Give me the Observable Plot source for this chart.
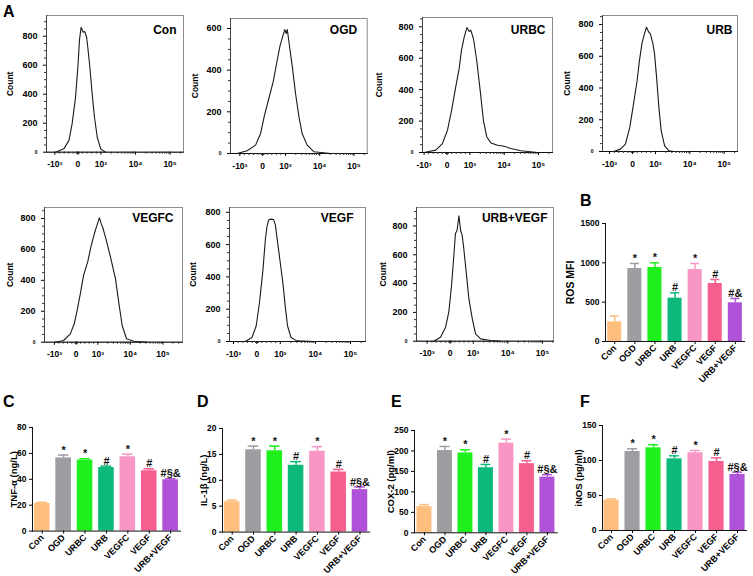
<!DOCTYPE html>
<html><head><meta charset="utf-8">
<script src="https://cdn.jsdelivr.net/npm/d3@7"></script>
<script src="https://cdn.jsdelivr.net/npm/@observablehq/plot@0.6"></script>
<style>
body{margin:0;background:#fff;}
#root{position:relative;width:753px;height:576px;overflow:hidden;font-family:"Liberation Sans",Arial,sans-serif;background:#fff;}
#root svg{position:absolute;}
#root svg text{font-weight:bold;}
.lab{position:absolute;font-weight:bold;font-size:16px;line-height:1;color:#000;}
</style></head><body><div id="root"></div>
<script>
// ---------- DATA ----------
const groups = ["Con","OGD","URBC","URB","VEGFC","VEGF","URB+VEGF"];
const groupColors = ["#FDBE7E","#9D9DA2","#1EF01E","#0DB97A","#F897C6","#F65E8E","#B052D8"];

const rosMean = [250,928,941,551,915,737,492];
const rosSem  = [72,64,59,68,77,51,55];
const rosMarks = ["","*","*","#","*","#","#&"];

const tnfMean = [21.3,56.5,54.8,49.1,57.4,46.6,39.6];
const tnfSem  = [0.9,2.2,1.1,1.1,2.0,1.5,0.8];
const il1bMean = [5.85,15.9,15.7,12.9,15.6,11.6,8.2];
const il1bSem  = [0.32,0.7,0.9,0.7,0.9,0.5,0.5];
const cox2Mean = [64,201,195,159,219,169,136];
const cox2Sem  = [5,10,8,8,10,7,6];
const inosMean = [43.3,112.9,118.1,102.4,111,98.6,80];
const inosSem  = [1.9,3.8,4.3,4.3,3.3,5.2,3.3];
const cytoMarks = ["","*","*","#","*","#","#§&"];

// flow histograms: x in display units of the biexponential axis, counts
const flowTicks = [-1,0,1,2.5,4];
const flowTickLabels = ["-10³","0","10³","10⁴","10⁵"];

const conX = [-0.97,-0.61,-0.39,-0.25,-0.1,0.01,0.07,0.14,0.23,0.3,0.38,0.43,0.52,0.62,0.72,0.84,0.99,1.2];
const conCount = [0,23,80,195,380,610,775,862,828,832,793,724,586,402,241,103,23,0];
const ogdX = [-1.12,-0.68,-0.31,-0.09,0.08,0.27,0.46,0.61,0.75,0.87,0.97,1.03,1.08,1.16,1.3,1.44,1.59,1.73,1.95,2.25,2.98];
const ogdCount = [0,13,40,96,184,264,344,432,512,560,595,576,595,528,416,288,176,96,40,8,0];
const urbcX = [-1,-0.49,-0.2,0.02,0.2,0.38,0.53,0.63,0.75,0.87,0.97,1.04,1.16,1.3,1.45,1.59,1.74,1.92,2.21,2.5,2.79,3.23,3.96];
const urbcCount = [0,15,57,141,268,416,532,648,732,795,770,779,722,584,395,205,99,61,46,40,25,11,0];
const urbX = [-0.82,-0.53,-0.31,-0.12,0.02,0.2,0.3,0.42,0.52,0.61,0.71,0.78,0.89,0.96,1.05,1.15,1.25,1.4,1.59,1.81];
const urbCount = [0,15,46,152,278,446,573,688,741,783,752,741,678,615,467,278,131,36,4,0];
const vegfcX = [-0.97,-0.58,-0.27,-0.09,0.06,0.22,0.34,0.53,0.68,0.84,0.96,1.07,1.15,1.24,1.39,1.58,1.81,1.96,2.12,2.32,2.66,3.27];
const vegfcCount = [0,11,54,119,216,335,432,519,616,703,757,804,768,735,659,551,411,259,108,22,6,0];
const vegfX = [-0.5,-0.21,-0.03,0.11,0.26,0.36,0.43,0.5,0.6,0.71,0.79,0.89,1.0,1.11,1.21,1.31,1.46,1.71,2.43];
const vegfCount = [0,25,96,240,445,629,711,752,758,756,722,609,486,363,219,96,25,4,0];
const urbVegfX = [-0.71,-0.42,-0.2,-0.06,0.06,0.16,0.23,0.3,0.38,0.45,0.52,0.59,0.71,0.81,0.96,1.1,1.32,1.75,2.19];
const urbVegfCount = [0,28,97,202,387,596,747,770,870,770,735,643,457,295,155,51,16,5,0];

// ---------- DRAWING ----------
const root = document.getElementById("root");
const FONT = "'Liberation Sans', Arial, sans-serif";
function place(svg, left, top) {
  svg.style.position = "absolute";
  svg.style.left = left + "px";
  svg.style.top = top + "px";
  svg.style.background = "transparent";
  svg.style.overflow = "visible";
  root.appendChild(svg);
}
function letter(t, x, y) {
  const d = document.createElement("div");
  d.className = "lab"; d.textContent = t;
  d.style.left = x + "px"; d.style.top = y + "px";
  root.appendChild(d);
}

// minor ticks of the biexponential axis
const flowMinor = [];
for (let m = 2; m <= 9; m++) {
  flowMinor.push(1 + 1.5 * Math.log10(m), 2.5 + 1.5 * Math.log10(m), 4 + 1.5 * Math.log10(m));
}
[0.2,0.4,0.6,0.8,0.03,0.06].forEach(v => flowMinor.push(v, -v));

function flowPanel(title, xs, counts, f) {
  const data = xs.map((x, i) => ({x, c: counts[i]}));
  const svgL = f.L - 48, svgT = f.T - 10;
  const W = f.R + 8 - svgL, H = f.B + 24 - svgT;
  const minorY = d3.range(50, f.ymax, 50).filter(v => v % 200 !== 0);
  const minorX = flowMinor.filter(v => v > f.xdom[0] && v < f.xdom[1]);
  const plot = Plot.plot({
    width: W, height: H,
    marginLeft: f.L - svgL, marginRight: svgL + W - f.R,
    marginTop: f.T - svgT, marginBottom: svgT + H - f.B,
    style: {fontFamily: FONT, background: "transparent"},
    x: {domain: f.xdom, axis: null},
    y: {domain: [0, f.ymax], axis: null},
    marks: [
      Plot.frame({stroke: "#8c8c8c"}),
      Plot.frame({anchor: "left", stroke: "#444"}),
      Plot.frame({anchor: "bottom", stroke: "#111"}),
      Plot.axisX({ticks: minorX, tickSize: 2, tickFormat: () => "", label: null, stroke: "#333"}),
      Plot.axisX({ticks: flowTicks, tickSize: 3, tickPadding: 6,
        tickFormat: d => flowTickLabels[flowTicks.indexOf(d)],
        fontSize: 8.5, fontWeight: "bold", label: null}),
      Plot.axisY({ticks: minorY, tickSize: 2, tickFormat: () => "", label: null, stroke: "#333"}),
      Plot.axisY({ticks: f.yticks, tickSize: 3, tickPadding: 6, tickFormat: d => String(d), fontSize: 9, fontWeight: "bold", label: null}),
      Plot.axisY({ticks: [0], tickSize: 3, tickPadding: 6, fontSize: 5, label: null}),
      Plot.line(data, {x: "x", y: "c", stroke: "#1a1a1a", strokeWidth: 1.1}),
      Plot.text([title], {text: d => d, frameAnchor: "top-right", dx: -f.tdx, dy: f.tdy,
        textAnchor: "end", lineAnchor: "middle", fontSize: 12, fontWeight: "bold", fill: "#000"}),
      Plot.text(["Count"], {text: d => d, frameAnchor: "left", dx: -(f.L - f.countX), rotate: -90,
        textAnchor: "middle", lineAnchor: "middle", fontSize: 8.5, fontWeight: "bold", fill: "#000"})
    ]
  });
  place(plot, svgL, svgT);
}

flowPanel("Con", conX, conCount, {L:46,R:183,T:15,B:151.7,xdom:[-1.36,4.58],ymax:943,yticks:[200,400,600,800],countX:10,tdx:7,tdy:15});
flowPanel("OGD", ogdX, ogdCount, {L:230,R:366.7,T:18.3,B:153.3,xdom:[-1.41,4.58],ymax:648,yticks:[200,400,600],countX:195,tdx:10,tdy:12});
flowPanel("URBC", urbcX, urbcCount, {L:421.7,R:551.7,T:16.7,B:151.7,xdom:[-1.07,4.61],ymax:859,yticks:[200,400,600,800],countX:378,tdx:7,tdy:12.6});
flowPanel("URB", urbX, urbCount, {L:602,R:737,T:15,B:151,xdom:[-1.31,4.58],ymax:857,yticks:[200,400,600,800],countX:567,tdx:5,tdy:15});
flowPanel("VEGFC", vegfcX, vegfcCount, {L:44,R:182,T:207,B:341.7,xdom:[-1.46,4.9],ymax:871,yticks:[200,400,600,800],countX:10,tdx:9,tdy:11});
flowPanel("VEGF", vegfX, vegfCount, {L:229,R:365,T:206.7,B:340.7,xdom:[-1.17,4.64],ymax:830,yticks:[200,400,600,800],countX:193,tdx:12,tdy:11});
flowPanel("URB+VEGF", urbVegfX, urbVegfCount, {L:416,R:553,T:207,B:340.7,xdom:[-1.46,4.48],ymax:928,yticks:[200,400,600,800],countX:383,tdx:6,tdy:11});

function barPanel(ylabel, means, sems, marks, s) {
  const data = groups.map((g, i) => ({g, m: means[i], top: means[i] + sems[i], color: groupColors[i], mark: marks[i]}));
  const R = s.L + s.step * (groups.length - s.pi + 2 * s.po);
  const svgL = s.L - 40, svgT = s.yTop - 25;
  const W = R + 10 - svgL, H = s.y0 + 50 - svgT;
  const plot = Plot.plot({
    width: W, height: H,
    marginLeft: s.L - svgL, marginRight: svgL + W - R,
    marginTop: s.yTop - svgT, marginBottom: svgT + H - s.y0,
    style: {fontFamily: FONT, background: "transparent"},
    x: {type: "band", domain: groups, paddingInner: s.pi, paddingOuter: s.po, round: false, axis: null},
    y: {domain: [0, s.ymax], axis: null},
    marks: [
      Plot.barY(data, {x: "g", y: "m", fill: "color"}),
      Plot.ruleX(data, {x: "g", y1: "m", y2: "top", stroke: "color", strokeWidth: 1.5}),
      Plot.tickY(data, {x: "g", y: "top", stroke: "color", strokeWidth: 1.5, inset: 2.5}),
      Plot.text(data, {x: "g", y: "top", text: "mark", dy: -1.5, lineAnchor: "bottom",
        fontSize: 11, fontWeight: "bold", fill: "#111"}),
      Plot.frame({anchor: "left", stroke: "#111"}),
      Plot.frame({anchor: "bottom", stroke: "#111"}),
      Plot.axisY({ticks: s.ticks, tickSize: 3, tickPadding: 3, tickFormat: d => String(d), fontSize: 8.5, fontWeight: "bold", label: null}),
      Plot.axisX({tickSize: 3, tickPadding: 2, tickRotate: -45, fontSize: 9, fontWeight: "bold", label: null}),
      Plot.text([ylabel], {text: d => d, frameAnchor: "left", dx: -s.labDx, rotate: -90,
        textAnchor: "middle", lineAnchor: "middle", fontSize: s.labSize, fontWeight: "bold", fill: "#000"})
    ]
  });
  place(plot, svgL, svgT);
}

barPanel("ROS MFI", rosMean, rosSem, rosMarks,
  {L:605, yTop:223.3, y0:341.3, ymax:1500, ticks:[0,500,1000,1500], step:20.1, pi:0.3, po:0.11, labDx:35, labSize:10.5});
barPanel("TNF-α (ng/L)", tnfMean, tnfSem, cytoMarks,
  {L:32.3, yTop:426.7, y0:530.3, ymax:80, ticks:[0,20,40,60,80], step:21.4, pi:0.27, po:0.09, labDx:19, labSize:9.5});
barPanel("IL-1β (ng/L)", il1bMean, il1bSem, cytoMarks,
  {L:222.3, yTop:427.7, y0:531.3, ymax:20, ticks:[0,5,10,15,20], step:21.3, pi:0.27, po:0.09, labDx:19, labSize:9.5});
barPanel("COX-2 (pg/ml)", cox2Mean, cox2Sem, cytoMarks,
  {L:414, yTop:430, y0:532.3, ymax:250, ticks:[0,50,100,150,200,250], step:20.5, pi:0.27, po:0.12, labDx:24, labSize:9.5});
barPanel("iNOS (pg/ml)", inosMean, inosSem, cytoMarks,
  {L:602, yTop:425, y0:530, ymax:150, ticks:[0,50,100,150], step:21, pi:0.28, po:0.07, labDx:24, labSize:9.5});

letter("A", 3, 4);
letter("B", 580, 193);
letter("C", 3, 394);
letter("D", 197, 394);
letter("E", 391, 394);
letter("F", 580, 394);
</script>
</body></html>
